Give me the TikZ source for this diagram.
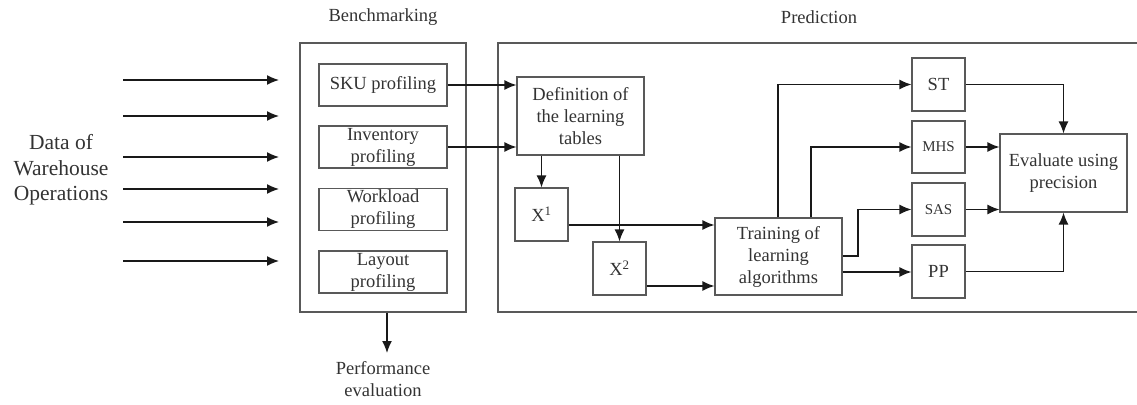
\documentclass[tikz,border=0pt]{standalone}
\usepackage{fontspec}
\setmainfont{Liberation Serif}
\usetikzlibrary{arrows.meta}
\begin{document}
\begin{tikzpicture}[x=1pt,y=-1pt,
  box/.style={draw=black!65,line width=1.1pt,inner sep=0pt,align=center,font=\fontsize{18.5}{22}\selectfont,text=black!80},
  sbox/.style={box,font=\fontsize{15}{18}\selectfont},
  lbl/.style={align=center,font=\fontsize{18.5}{22}\selectfont,inner sep=0pt,text=black!80},
  arr/.style={draw=black!90,line width=1.4pt,-{Latex[length=12pt,width=10pt]}},
  frame/.style={draw=black!65,line width=1.1pt}]
\useasboundingbox (0,0) rectangle (1137,404);
% frames
\node[frame,minimum width=166pt,minimum height=269pt,inner sep=0pt] (bench) at (383,177.5) {};
\draw[frame] (1140,43) -- (498,43) -- (498,312) -- (1140,312);
\node[lbl] (benchlbl) at (383,17) {Benchmarking};
\node[lbl] (predlbl) at (819,17) {Prediction};
% data
\node[lbl,font=\fontsize{21.5}{25.5}\selectfont] (data) at (61,170) {Data of\\Warehouse\\Operations};
\foreach \i/\y in {1/80,2/116,3/157,4/189,5/222,6/261}{
  \coordinate (s\i) at (123,\y);
  \coordinate (e\i) at (279,\y);
  \draw[arr] (s\i) -- (e\i);
}
% profiling boxes
\node[box,minimum width=128pt,minimum height=42pt] (sku) at (383,85) {SKU profiling};
\node[box,minimum width=128pt,minimum height=42pt] (inv) at (383,147) {Inventory\\profiling};
\node[box,minimum width=128pt,minimum height=42pt] (work) at (383,209.5) {Workload\\profiling};
\node[box,minimum width=128pt,minimum height=42pt] (lay) at (383,272) {Layout\\profiling};
% performance
\node[lbl] (perf) at (383,379) {Performance\\evaluation};
\coordinate (perfin) at (387,353);
\draw[arr] (bench.south -| perfin) -- (perfin);
% prediction
\node[box,minimum width=127pt,minimum height=78pt] (def) at (580.5,116) {Definition of\\the learning\\tables};
\node[box,minimum width=53pt,minimum height=53pt] (x1) at (541.5,214.5) {X\textsuperscript{1}};
\node[box,minimum width=53pt,minimum height=53pt] (x2) at (619.5,268.5) {X\textsuperscript{2}};
\node[box,minimum width=127pt,minimum height=77pt] (train) at (778.5,256.5) {Training of\\learning\\algorithms};
\node[box,minimum width=53pt,minimum height=53pt] (st) at (938.5,84.5) {ST};
\node[sbox,minimum width=53pt,minimum height=52pt] (mhs) at (938.5,147) {MHS};
\node[sbox,minimum width=53pt,minimum height=53pt] (sas) at (938.5,209.5) {SAS};
\node[box,minimum width=53pt,minimum height=53pt] (pp) at (938.5,271.5) {PP};
\node[box,minimum width=127pt,minimum height=78pt] (eval) at (1063.5,173) {Evaluate using\\precision};
% connectors
\draw[arr] (sku.east) -- (sku.east -| def.west);
\draw[arr] (inv.east) -- (inv.east -| def.west);
\draw[arr] (def.south -| x1.north) -- (x1.north);
\draw[arr] (def.south -| x2.north) -- (x2.north);
\draw[arr] ([yshift=-10.5pt]x1.east) -- ([yshift=-10.5pt]x1.east -| train.west);
\draw[arr] ([yshift=-17.5pt]x2.east) -- ([yshift=-17.5pt]x2.east -| train.west);
\draw[arr] (train.north -| 778,0) |- (st.west);
\draw[arr] (train.north -| 811,0) |- (mhs.west);
\draw[arr] (train.east |- 0,256) -- (858,256) |- (sas.west);
\draw[arr] (train.east |- 0,272) -- (pp.west |- 0,272);
\draw[arr] (st.east) -| (eval.north);
\draw[arr] (mhs.east) -- (mhs.east -| eval.west);
\draw[arr] (sas.east) -- (sas.east -| eval.west);
\draw[arr] (pp.east) -| (eval.south);
\end{tikzpicture}
\end{document}
